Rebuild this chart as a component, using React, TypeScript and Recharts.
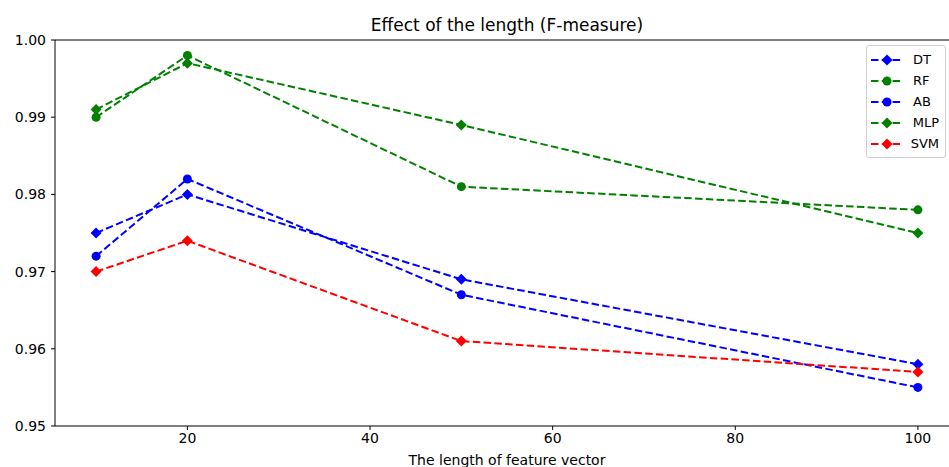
import React from 'react'
import { LineChart, Line, XAxis, YAxis, ReferenceLine } from 'recharts'

const lengths = [10, 20, 50, 100]
const dtValues = [0.975, 0.98, 0.969, 0.958]
const rfValues = [0.99, 0.998, 0.981, 0.978]
const abValues = [0.972, 0.982, 0.967, 0.955]
const mlpValues = [0.991, 0.997, 0.989, 0.975]
const svmValues = [0.97, 0.974, 0.961, 0.957]
const xTicks = [20, 40, 60, 80, 100]
const yTicks = [0.95, 0.96, 0.97, 0.98, 0.99, 1.0]

const FONT = '"DejaVu Sans", sans-serif'

const SERIES = [
  { key: 'DT', color: '#0000ff', marker: 'diamond' },
  { key: 'RF', color: '#008000', marker: 'circle' },
  { key: 'AB', color: '#0000ff', marker: 'circle' },
  { key: 'MLP', color: '#008000', marker: 'diamond' },
  { key: 'SVM', color: '#ff0000', marker: 'diamond' },
]

const data = lengths.map((len, i) => ({
  len,
  DT: dtValues[i],
  RF: rfValues[i],
  AB: abValues[i],
  MLP: mlpValues[i],
  SVM: svmValues[i],
}))

const markerShape = (marker: string, color: string, cx: number, cy: number, key?: any) => {
  if (marker === 'diamond') {
    const s = 5.5
    return (
      <polygon
        key={key}
        points={`${cx},${cy - s} ${cx + s},${cy} ${cx},${cy + s} ${cx - s},${cy}`}
        fill={color}
      />
    )
  }
  return <circle key={key} cx={cx} cy={cy} r={4.5} fill={color} />
}

const makeDot = (marker: string, color: string) => (props: any) => {
  const { cx, cy, index } = props
  if (cx == null || cy == null) return <g key={index} />
  return markerShape(marker, color, cx, cy, index)
}

// legend drawn as an overlay so it doesn't eat into the plot area
const LegendBox = () => (
  <div
    style={{
      position: 'absolute',
      left: 866,
      top: 45,
      border: '1px solid #d0d0d0',
      borderRadius: 3,
      background: 'rgba(255,255,255,0.8)',
      padding: '3px 6px 3px 4px',
      fontFamily: FONT,
      fontSize: 13,
      color: '#000',
      width: 68,
    }}
  >
    {SERIES.map((s) => (
      <div key={s.key} style={{ display: 'flex', alignItems: 'center', height: 21 }}>
        <svg width={32} height={14} style={{ marginRight: 10 }}>
          <line x1={0} y1={7} x2={32} y2={7} stroke={s.color} strokeWidth={2} strokeDasharray="7.5 3.3" />
          {markerShape(s.marker, s.color, 16, 7)}
        </svg>
        <span>{s.key}</span>
      </div>
    ))}
  </div>
)

export default function App() {
  return (
    <div
      style={{
        position: 'absolute',
        left: 0,
        top: 0,
        width: 949,
        height: 467,
        overflow: 'hidden',
        background: '#fff',
      }}
    >
      <LineChart
        width={960}
        height={467}
        data={data}
        margin={{ top: 40, right: 1, left: 0, bottom: 0 }}
        style={{ position: 'absolute', left: 0, top: 0 }}
      >
        <XAxis
          dataKey="len"
          type="number"
          domain={[5.5, 104.5]}
          ticks={xTicks}
          allowDataOverflow
          height={41}
          stroke="#000"
          tickSize={4}
          tick={{ fill: '#000', fontSize: 14, fontFamily: FONT }}
          tickMargin={3}
        />
        <YAxis
          type="number"
          domain={[0.95, 1.0]}
          ticks={yTicks}
          allowDataOverflow
          width={55}
          stroke="#000"
          tickSize={4}
          tick={{ fill: '#000', fontSize: 14, fontFamily: FONT }}
          tickMargin={5}
          tickFormatter={(v: number) => v.toFixed(2)}
        />
        <ReferenceLine y={1.0} stroke="#000" strokeWidth={1} />
        {SERIES.map((s) => (
          <Line
            key={s.key}
            dataKey={s.key}
            stroke={s.color}
            strokeWidth={2}
            strokeDasharray="7.5 3.3"
            dot={makeDot(s.marker, s.color)}
            activeDot={false}
            isAnimationActive={false}
          />
        ))}
      </LineChart>
      <div
        style={{
          position: 'absolute',
          left: 0,
          width: 1014,
          top: 15,
          textAlign: 'center',
          fontFamily: FONT,
          fontSize: 17,
          color: '#000',
        }}
      >
        Effect of the length (F-measure)
      </div>
      <div
        style={{
          position: 'absolute',
          left: 0,
          width: 1014,
          top: 452,
          textAlign: 'center',
          fontFamily: FONT,
          fontSize: 14,
          color: '#000',
        }}
      >
        The length of feature vector
      </div>
      <LegendBox />
    </div>
  )
}
